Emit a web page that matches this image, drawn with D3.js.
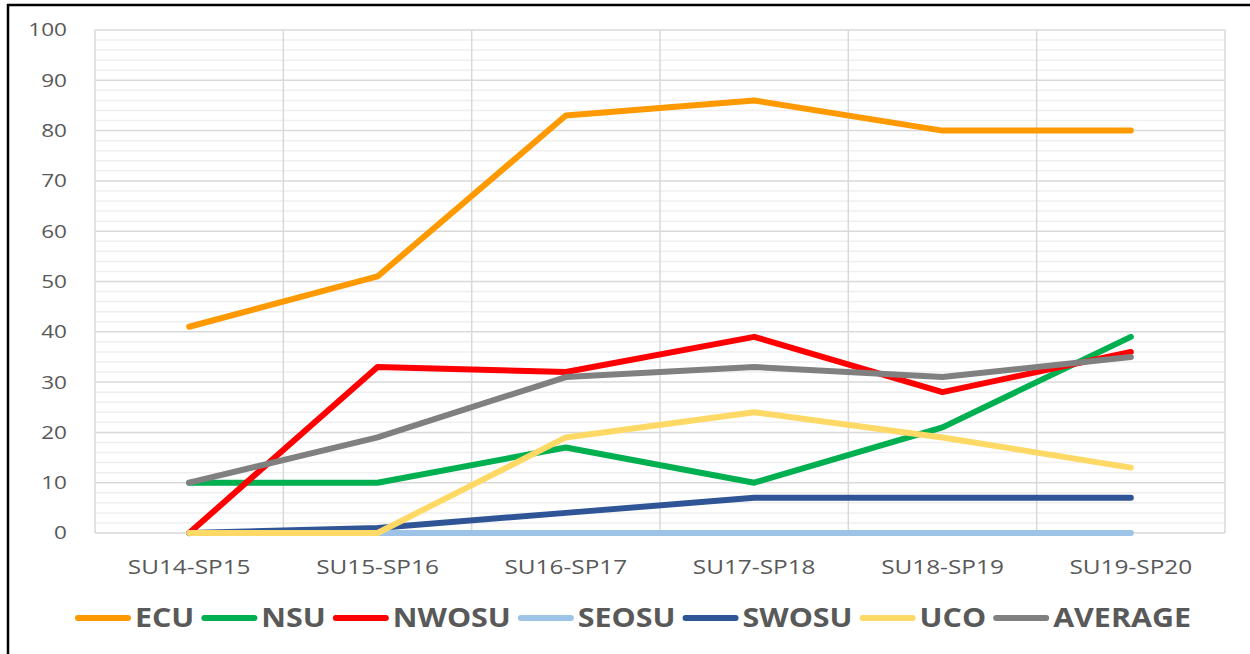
<!DOCTYPE html>
<html><head><meta charset="utf-8">
<script src="https://cdn.jsdelivr.net/npm/d3@7"></script>
<style>html,body{margin:0;padding:0;background:#fff;}svg{display:block;}</style>
</head><body>
<svg id="c" width="1250" height="654"></svg>
<script>
const categories = ["SU14-SP15","SU15-SP16","SU16-SP17","SU17-SP18","SU18-SP19","SU19-SP20"];
const seriesNames = ["ECU","NSU","NWOSU","SEOSU","SWOSU","UCO","AVERAGE"];
const ECU = [41, 51, 83, 86, 80, 80];
const NSU = [10, 10, 17, 10, 21, 39];
const NWOSU = [0, 33, 32, 39, 28, 36];
const SEOSU = [0, 0, 0, 0, 0, 0];
const SWOSU = [0, 1, 4, 7, 7, 7];
const UCO = [0, 0, 19, 24, 19, 13];
const AVERAGE = [10, 19, 31, 33, 31, 35];
const seriesColors = ["#FF9900","#00B050","#FF0000","#9DC3E6","#2F5597","#FFD966","#808080"];
const yTicks = [0,10,20,30,40,50,60,70,80,90,100];
const yMinorTicks = d3.range(0, 101, 2);

const seriesValues = [ECU, NSU, NWOSU, SEOSU, SWOSU, UCO, AVERAGE];
const series = seriesNames.map((n,i)=>({name:n, values:seriesValues[i], color:seriesColors[i]}));

const svg = d3.select("#c");
const L = 95, R = 1225, T = 30, B = 533;
const SX = 1.22; // horizontal stretch of text in reference
const textColor = "#595959";

const x = d3.scaleBand().domain(categories).range([L, R]).paddingInner(0).paddingOuter(0);
const y = d3.scaleLinear().domain([0, 100]).range([B, T]);
const cx = c => x(c) + x.bandwidth()/2;

// frame
svg.append("line").attr("x1",8).attr("x2",8).attr("y1",4).attr("y2",654).attr("stroke","#000").attr("stroke-width",2.5);
svg.append("line").attr("x1",7).attr("x2",1250).attr("y1",5).attr("y2",5).attr("stroke","#000").attr("stroke-width",2.5);

// minor grid
svg.append("g").selectAll("line").data(yMinorTicks.filter(v => v % 10 !== 0)).join("line")
  .attr("x1", L).attr("x2", R).attr("y1", d=>y(d)).attr("y2", d=>y(d))
  .attr("stroke", "#efefef").attr("stroke-width", 1.5);
// major grid
svg.append("g").selectAll("line").data(yTicks).join("line")
  .attr("x1", L).attr("x2", R).attr("y1", d=>y(d)).attr("y2", d=>y(d))
  .attr("stroke", "#d9d9d9").attr("stroke-width", 1.5);
// vertical grid
const vEdges = categories.map(c => x(c)).concat([x(categories[categories.length-1]) + x.bandwidth()]);
svg.append("g").selectAll("line").data(vEdges).join("line")
  .attr("x1", d=>d).attr("x2", d=>d).attr("y1", T).attr("y2", B)
  .attr("stroke", "#d9d9d9").attr("stroke-width", 1.5);

// y axis labels
svg.append("g").selectAll("text").data(yTicks).join("text")
  .attr("transform", d => `translate(67,${y(d)}) scale(${SX},1)`)
  .attr("text-anchor","end").attr("dy","0.35em")
  .attr("font-family","Open Sans, sans-serif").attr("font-size",18.5).attr("fill",textColor)
  .text(d=>d);

// x axis labels
svg.append("g").selectAll("text").data(categories).join("text")
  .attr("transform", d => `translate(${cx(d)},567) scale(${SX + 0.03},1)`)
  .attr("text-anchor","middle").attr("dy","0.35em")
  .attr("font-family","Open Sans, sans-serif").attr("font-size",19.5).attr("fill",textColor)
  .text(d=>d);

// lines
const line = d3.line().x((d,i)=>cx(categories[i])).y(d=>y(d));
svg.append("g").selectAll("path").data(series).join("path")
  .attr("d", s => line(s.values))
  .attr("fill","none").attr("stroke", s=>s.color).attr("stroke-width",6)
  .attr("stroke-linecap","round").attr("stroke-linejoin","round");

// legend
const lg = svg.append("g");
const lineLen = 56, gap1 = 4, gap2 = 7, legendY = 618;
const items = series.map(s => {
  const t = lg.append("text").attr("font-family","Open Sans, sans-serif").attr("font-weight",700)
    .attr("font-size",26).attr("fill",textColor).attr("dy","0.35em").text(s.name);
  const w = t.node().getComputedTextLength();
  return {s, t, w};
});
const target = 1191 - 75;
const rawText = d3.sum(items, d => d.w);
const fixed = items.length * (lineLen + gap1) + gap2 * (items.length - 1);
const lsx = (target - fixed) / rawText;
let xpos = 633 - target/2;
items.forEach(it => {
  lg.append("line").attr("x1", xpos+3).attr("x2", xpos+lineLen-3).attr("y1", legendY).attr("y2", legendY)
    .attr("stroke", it.s.color).attr("stroke-width",6).attr("stroke-linecap","round");
  xpos += lineLen + gap1;
  it.t.attr("transform", `translate(${xpos},${legendY}) scale(${lsx},1)`);
  xpos += it.w * lsx + gap2;
});
</script>
</body></html>
